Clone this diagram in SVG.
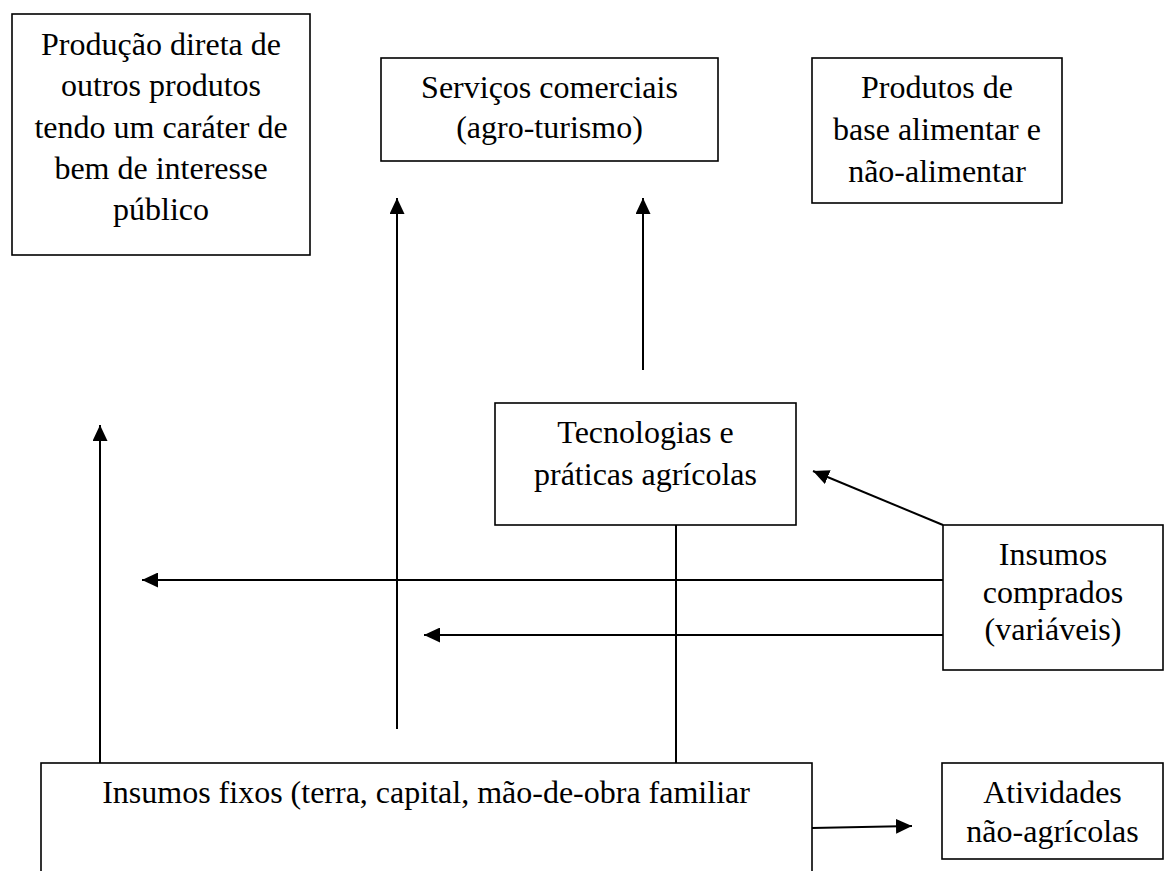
<svg xmlns="http://www.w3.org/2000/svg" width="1164" height="871" viewBox="0 0 1164 871">
<style>
.box{fill:#fff;stroke:#000;stroke-width:1.6}
.t{font-family:"Liberation Serif","Times New Roman",serif;font-size:32px;fill:#000;text-anchor:middle}
.c{stroke:#000;stroke-width:2;fill:none}
.a{marker-end:url(#ah)}
</style>
<defs>
<marker id="ah" markerUnits="userSpaceOnUse" markerWidth="17" markerHeight="15" refX="16" refY="7.5" orient="auto">
<path d="M0,0 L16,7.5 L0,15 Z" fill="#000"/>
</marker>
</defs>
<rect width="1164" height="871" fill="#fff"/>
<g id="n-producao-direta">
<rect class="box" x="12" y="14" width="298" height="241"/>
<text class="t" x="161" y="55">Produção direta de</text>
<text class="t" x="161" y="96">outros produtos</text>
<text class="t" x="161" y="138">tendo um caráter de</text>
<text class="t" x="161" y="179">bem de interesse</text>
<text class="t" x="161" y="220">público</text>
</g>
<g id="n-servicos">
<rect class="box" x="381" y="58" width="337" height="103"/>
<text class="t" x="549.5" y="98">Serviços comerciais</text>
<text class="t" x="549.5" y="138">(agro-turismo)</text>
</g>
<g id="n-produtos">
<rect class="box" x="812" y="58" width="250" height="145"/>
<text class="t" x="937" y="98">Produtos de</text>
<text class="t" x="937" y="140">base alimentar e</text>
<text class="t" x="937" y="182">não-alimentar</text>
</g>
<g id="n-tecnologias">
<rect class="box" x="495" y="403" width="301" height="122"/>
<text class="t" x="645.5" y="443">Tecnologias e</text>
<text class="t" x="645.5" y="485">práticas agrícolas</text>
</g>
<g id="n-insumos-comprados">
<rect class="box" x="943" y="525" width="220" height="145"/>
<text class="t" x="1053" y="565">Insumos</text>
<text class="t" x="1053" y="603">comprados</text>
<text class="t" x="1053" y="640">(variáveis)</text>
</g>
<g id="n-insumos-fixos">
<rect class="box" x="41" y="763" width="771" height="130"/>
<text class="t" x="426" y="803">Insumos fixos (terra, capital, mão-de-obra familiar</text>
</g>
<g id="n-atividades">
<rect class="box" x="942" y="763" width="221" height="96"/>
<text class="t" x="1052.5" y="803">Atividades</text>
<text class="t" x="1052.5" y="842">não-agrícolas</text>
</g>
<g id="connectors">
<line class="c a" x1="643" y1="370" x2="643" y2="198"/>
<line class="c a" x1="397" y1="729" x2="397" y2="198"/>
<line class="c a" x1="100" y1="763" x2="100" y2="425"/>
<line class="c" x1="676" y1="525" x2="676" y2="763"/>
<line class="c a" x1="943" y1="580" x2="142" y2="580"/>
<line class="c a" x1="943" y1="635" x2="424" y2="635"/>
<line class="c a" x1="943" y1="525" x2="813" y2="471"/>
<line class="c a" x1="812" y1="828" x2="912" y2="826"/>
</g>
</svg>
